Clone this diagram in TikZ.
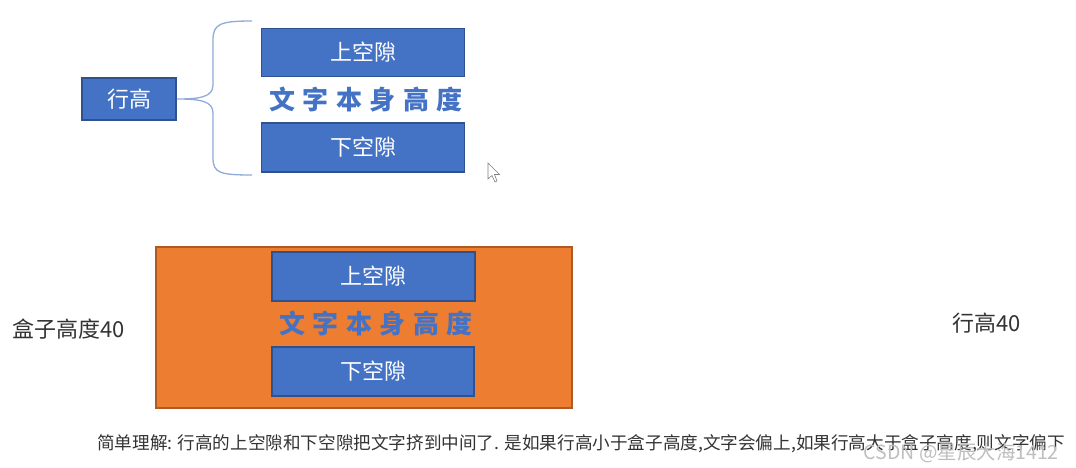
\documentclass[tikz,border=0pt]{standalone}
\usepackage{fontspec}
\setmainfont{Noto Sans CJK SC}
\begin{document}
\begin{tikzpicture}[x=1pt,y=-1pt,
  bluebox/.style={draw=boxedge, fill=boxblue, line width=1.2pt, text=white, font=\fontsize{22}{22}\selectfont, inner sep=0pt},
  lbl/.style={font=\fontsize{22}{22}\selectfont, text=black!80, inner sep=0pt},
  bigtext/.style={font=\fontsize{26}{26}\selectfont\bfseries, inner sep=0pt}]
\definecolor{boxblue}{HTML}{4472C4}
\definecolor{boxedge}{HTML}{2F528F}
\definecolor{orfill}{HTML}{ED7D31}
\definecolor{oredge}{HTML}{AE5A21}
\definecolor{bracecol}{HTML}{8FAADC}
\def\gp{\hspace{7.5pt}}
\useasboundingbox (0,0) rectangle (1076,468);
\fill[white] (0,0) rectangle (1076,468);
% top diagram
\node[bluebox, minimum width=94pt, minimum height=42pt] (lh) at (129,99) {行高};
\node[bluebox, minimum width=203pt, minimum height=48pt] (up1) at (363,52.5) {上空隙};
\node[bluebox, minimum width=203pt, minimum height=49pt] (dn1) at (363,147.5) {下空隙};
\node[bigtext, text=boxblue] (tx1) at (366,100) {文\gp 字\gp 本\gp 身\gp 高\gp 度};
\coordinate (btop) at (252,21);
\coordinate (bbot) at (252,175);
\coordinate (btip) at (177,99);
\draw[bracecol, line width=1.3pt] (btop) .. controls (220,21) and (213,24) .. (213,40)
  -- (213,85) .. controls (213,97) and (200,99) .. (btip)
  .. controls (200,99) and (213,101) .. (213,113)
  -- (213,158) .. controls (213,173) and (220,175) .. (bbot);
% cursor
\draw[gray, line width=0.6pt, fill=white] (488,163) -- (488,179) -- (492,175.5) -- (495,182) -- (497,181) -- (494.5,174.5) -- (499.5,174.5) -- cycle;
% bottom diagram
\node[draw=oredge, fill=orfill, line width=1.2pt, minimum width=416pt, minimum height=161pt, inner sep=0pt] (box) at (364,327.5) {};
\node[bluebox, minimum width=203pt, minimum height=49pt] (up2) at (373.5,276.5) {上空隙};
\node[bluebox, minimum width=202pt, minimum height=49pt] (dn2) at (373,371.5) {下空隙};
\node[bigtext, text=boxblue] (tx2) at (376,324) {文\gp 字\gp 本\gp 身\gp 高\gp 度};
\node[lbl, anchor=west] (bh) at (12,329) {盒子高度40};
\node[lbl, anchor=west] (lh40) at (952,323) {行高40};
\node[font=\fontsize{17.6}{18}\selectfont, text=black!80, anchor=west, inner sep=0pt] (note) at (97,444) {简单理解: 行高的上空隙和下空隙把文字挤到中间了. 是如果行高小于盒子高度,文字会偏上,如果行高大于盒子高度,则文字偏下};
\node[font=\fontsize{19.5}{20}\selectfont, text=black!25, anchor=east, inner sep=0pt] (wm) at (1059,453) {CSDN @星辰大海1412};
\end{tikzpicture}
\end{document}
